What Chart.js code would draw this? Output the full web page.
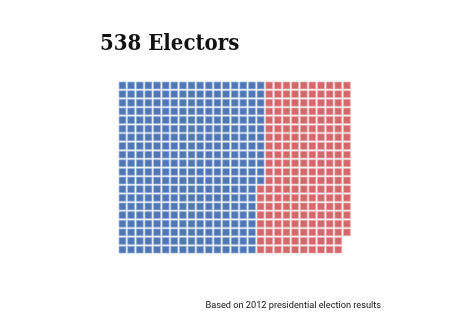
<!DOCTYPE html>
<html>
<head>
<meta charset="utf-8">
<title>538 Electors</title>
<script src="https://cdn.jsdelivr.net/npm/chart.js@4/dist/chart.umd.min.js"></script>
<style>
  html, body { margin: 0; padding: 0; background: #fff; }
  #wrap { width: 471px; height: 326px; }
</style>
</head>
<body>
<div id="wrap"><canvas id="waffle" width="471" height="326"></canvas></div>
<script>
// electoral votes per party, 2012
const parties = ['Democratic', 'Republican'];
const electors = [332, 206];
const fills = ['#4f77b5', '#d4676b'];
const edges = ['rgba(160,184,220,0.9)', 'rgba(236,178,180,0.9)'];

// squares stack top to bottom, column after column
const gridRows = 20;

// one point per elector
let seat = 0;
const datasets = parties.map(function (name, i) {
  const pts = [];
  for (let k = 0; k < electors[i]; k++) {
    pts.push({ x: Math.floor(seat / gridRows), y: seat % gridRows });
    seat++;
  }
  return {
    label: name,
    data: pts,
    pointStyle: 'rect',
    pointRadius: 4.9,
    pointBorderWidth: 0.8,
    backgroundColor: fills[i],
    borderColor: edges[i]
  };
});

var ctx = document.getElementById('waffle');
var chart = new Chart(ctx, {
  type: 'scatter',
  data: { datasets: datasets },
  options: {
    responsive: false,
    animation: false,
    events: [],
    layout: { padding: { left: 100, right: 90, top: 0, bottom: 0 } },
    scales: {
      x: { display: false, min: -2.607, max: 29.95 },
      y: { display: false, reverse: true, min: -3.25, max: 24.87 }
    },
    plugins: {
      legend: { display: false },
      tooltip: { enabled: false },
      title: {
        display: true,
        text: '538 Electors',
        align: 'start',
        color: '#111',
        font: { family: 'DejaVu Serif Condensed', weight: 'bold', size: 22 },
        padding: { top: 31, bottom: 0 }
      },
      subtitle: {
        display: true,
        position: 'bottom',
        text: 'Based on 2012 presidential election results',
        align: 'end',
        color: '#111',
        font: { family: 'Roboto', size: 9.2 },
        padding: { top: 0, bottom: 14.6 }
      }
    }
  }
});
</script>
</body>
</html>
